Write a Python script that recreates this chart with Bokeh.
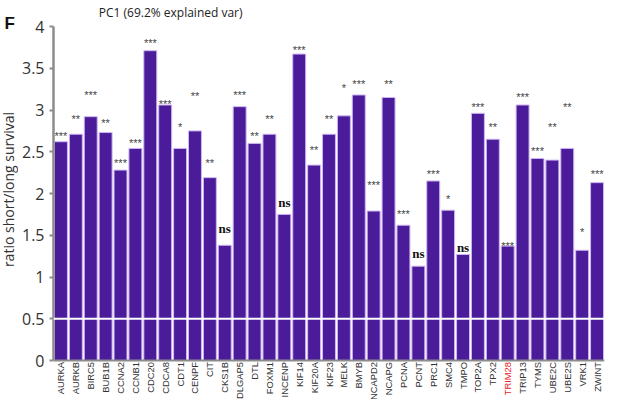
import math
from bokeh.plotting import figure
from bokeh.layouts import row
from bokeh.models import ColumnDataSource, FactorRange, Range1d, Span, Label, FixedTicker
from bokeh.embed import file_html
from bokeh.resources import INLINE
from bokeh.core.properties import value

genes = ["AURKA", "AURKB", "BIRC5", "BUB1B", "CCNA2", "CCNB1", "CDC20", "CDCA8", "CDT1", "CENPF",
         "CIT", "CKS1B", "DLGAP5", "DTL", "FOXM1", "INCENP", "KIF14", "KIF20A", "KIF23", "MELK",
         "BMYB", "NCAPD2", "NCAPG", "PCNA", "PCNT", "PRC1", "SMC4", "TMPO", "TOP2A", "TPX2",
         "TRIM28", "TRIP13", "TYMS", "UBE2C", "UBE2S", "VRK1", "ZWINT"]
ratios = [2.62, 2.71, 2.92, 2.73, 2.28, 2.54, 3.71, 3.06, 2.54, 2.75,
          2.19, 1.38, 3.04, 2.60, 2.71, 1.75, 3.67, 2.34, 2.71, 2.93,
          3.18, 1.79, 3.15, 1.62, 1.13, 2.15, 1.80, 1.27, 2.96, 2.65,
          1.37, 3.06, 2.42, 2.40, 2.54, 1.32, 2.13]
sig = ["***", "**", "***", "**", "***", "***", "***", "***", "*", "**",
       "**", "ns", "***", "**", "**", "ns", "***", "**", "**", "*",
       "***", "***", "**", "***", "ns", "***", "*", "ns", "***", "**",
       "***", "***", "***", "**", "**", "*", "***"]
sig_y = [2.76, 2.97, 3.26, 2.92, 2.44, 2.68, 3.88, 3.15, 2.87, 3.24,
         2.44, 1.62, 3.26, 2.76, 2.97, 1.93, 3.80, 2.60, 2.97, 3.34,
         3.39, 2.18, 3.39, 1.83, 1.32, 2.31, 2.01, 1.39, 3.11, 2.87,
         1.45, 3.23, 2.59, 2.87, 3.11, 1.61, 2.31]
highlight = "TRIM28"
y_ticks = [0, 0.5, 1, 1.5, 2, 2.5, 3, 3.5, 4]
y_tick_labels = ["0", "0.5", "1", "1.5", "2", "2.5", "3", "3.5", "4"]
threshold = 0.5
y_title = "ratio short/long survival"
chart_title = "PC1 (69.2% explained var)"
panel_letter = "F"

FIG_H = 399
LEFT_W = 18
MAIN_W = 605 - LEFT_W
ZERO_PX = 360
PX_PER_UNIT = 83.5
Y_TOP = ZERO_PX / PX_PER_UNIT
Y_BOT = -(FIG_H - ZERO_PX) / PX_PER_UNIT
PX_PER_FACTOR = 15.0


def px_to_y(py):
    return (ZERO_PX - py) / PX_PER_UNIT


p = figure(x_range=FactorRange(factors=genes, range_padding=0),
           y_range=Range1d(Y_BOT, Y_TOP),
           width=MAIN_W, height=FIG_H, output_backend="svg", toolbar_location=None,
           min_border_top=0, min_border_bottom=0, min_border_right=1, min_border_left=0)
p.background_fill_color = "white"
p.border_fill_color = "white"
p.outline_line_color = None
p.xgrid.grid_line_color = None
p.ygrid.grid_line_color = None
p.xaxis.visible = False

src = ColumnDataSource(dict(
    gene=genes, ratio=ratios,
    color=["#e8241c" if g == highlight else "#333333" for g in genes],
    label_y=[-1.5 / PX_PER_UNIT] * len(genes),
))
p.vbar(x="gene", top="ratio", width=0.87, source=src,
       fill_color="#4b1c9a", line_color="#cfb6f2", line_width=1)

# x-axis line and the 0.5 threshold line
p.add_layout(Span(location=0, dimension="width", line_color="#8c8c8c", line_width=2))
p.add_layout(Span(location=threshold, dimension="width", line_color="white", line_width=2))

# gene labels, vertical, TRIM28 in red
p.text(x="gene", y="label_y", text="gene", source=src, angle=math.pi / 2,
       text_align="right", text_baseline="middle", text_color="color",
       text_font=value("Liberation Sans"), text_font_size="9.4px")

# significance labels
star_idx = [i for i, s in enumerate(sig) if s != "ns"]
ns_idx = [i for i, s in enumerate(sig) if s == "ns"]
star_src = ColumnDataSource(dict(
    x=[genes[i] for i in star_idx],
    y=[sig_y[i] - 6.4 / PX_PER_UNIT for i in star_idx],
    t=[sig[i] for i in star_idx]))
ns_src = ColumnDataSource(dict(
    x=[genes[i] for i in ns_idx],
    y=[sig_y[i] - 3.0 / PX_PER_UNIT for i in ns_idx],
    t=[sig[i] for i in ns_idx]))
p.text(x="x", y="y", text="t", source=star_src, text_align="center", text_baseline="alphabetic",
       text_font=value("Liberation Sans"), text_font_size="11px", text_color="#444444")
p.text(x="x", y="y", text="t", source=ns_src, text_align="center", text_baseline="alphabetic",
       text_font=value("Liberation Serif"), text_font_size="13px", text_font_style="bold",
       text_color="#111111")

# y axis (its title is drawn in the narrow strip on the left)
ya = p.yaxis[0]
ya.bounds = (0, 4)
ya.ticker = FixedTicker(ticks=y_ticks)
ya.major_label_overrides = {t: l for t, l in zip(y_ticks, y_tick_labels)}
ya.axis_line_color = "#8c8c8c"
ya.axis_line_width = 2.5
ya.major_tick_line_color = "#8c8c8c"
ya.major_tick_line_width = 2
ya.major_tick_in = 0
ya.major_tick_out = 4
ya.minor_tick_line_color = None
ya.major_label_text_font = "Open Sans"
ya.major_label_text_font_size = "16px"
ya.major_label_text_color = "#333333"
ya.major_label_standoff = 5

# title inside the top of the frame
p.add_layout(Label(x=(175 - 57) / PX_PER_FACTOR, y=px_to_y(12),
                   text=chart_title, text_font="Open Sans", text_font_size="12px",
                   text_color="#222222", text_align="center", text_baseline="alphabetic"))

# narrow left strip: panel letter and y-axis title
lp = figure(x_range=Range1d(0, LEFT_W), y_range=Range1d(Y_BOT, Y_TOP),
            width=LEFT_W, height=FIG_H, output_backend="svg", toolbar_location=None,
            min_border=0)
lp.axis.visible = False
lp.grid.grid_line_color = None
lp.outline_line_color = None
lp.background_fill_color = "white"
lp.border_fill_color = "white"
lp.text(x=[4], y=[px_to_y(23)], text=[panel_letter], text_align="left",
        text_baseline="alphabetic", text_font=value("Liberation Sans"), text_font_size="17px",
        text_font_style="bold", text_color="#111111")
lp.text(x=[7.5], y=[px_to_y(189)], text=[y_title], angle=math.pi / 2,
        text_align="center", text_baseline="middle", text_font=value("Open Sans"),
        text_font_size="14px", text_color="#333333")

layout = row(lp, p)
open("out.html", "w").write(file_html(layout, INLINE))
